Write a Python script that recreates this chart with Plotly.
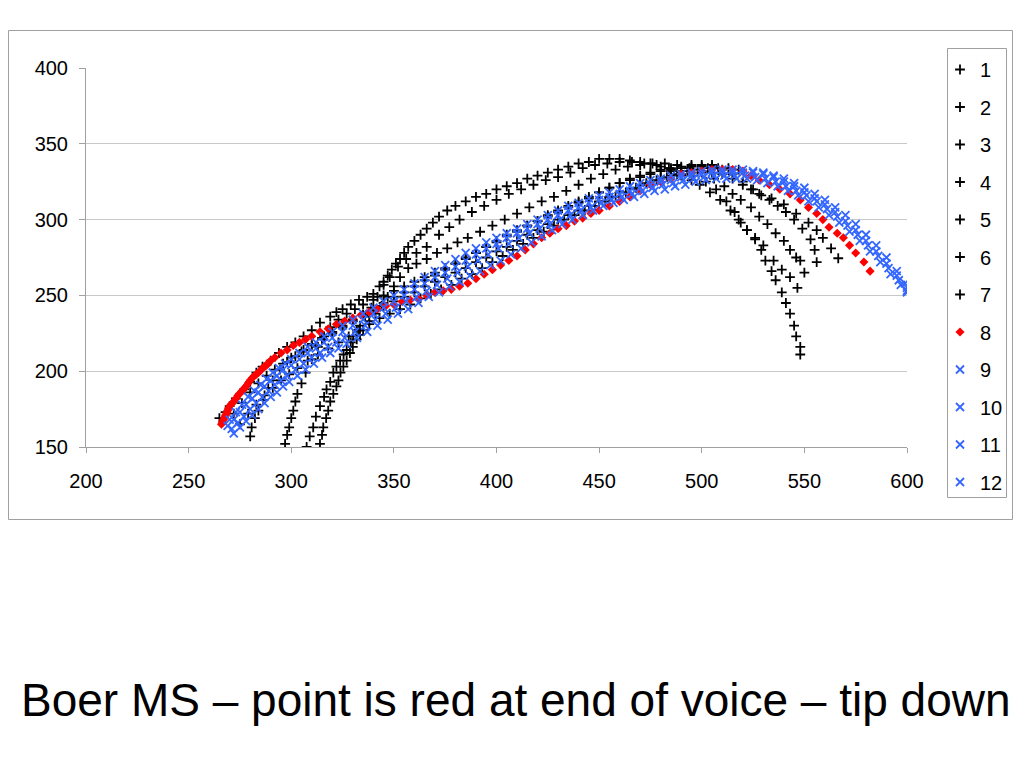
import plotly.graph_objects as go

# ---------------- data ----------------
s1_x = [265,268,270,273,277,280,283,286,290,294,298,302,306,310,314,319,322,325,329,333,337,340,343,345,347,349,351,353,355,357,360,363,366,369,372,376,380,385,390,395,400,405,410,415,420,425,430,435,440,445,450,455,460,465,470,475,480,485,490,495,499,504,509,514,518,522,526,529,531,534,536,539,541,543,545,546,548,548]
s1_y = [169,173,177,182,188,193,199,203,207,212,216,219,223,227,232,236,239,241,244,247,249,251,256,259,263,267,271,274,278,282,286,290,294,298,302,306,309,312,315,317,320,322,324,327,329,331,333,335,337,338,340,340,340,339,338,337,335,332,329,326,323,318,313,306,300,293,287,280,273,266,260,252,245,238,230,223,216,211]

s2_x = [297,298,299,300,301,302,303,305,307,310,313,316,319,323,327,331,335,340,345,350,355,360,365,370,375,380,385,390,395,400,405,410,415,420,425,430,435,440,445,450,455,460,465,470,475,480,485,490,495,500,505,510,515,520,525,529,533,537,541,545,549,553,555,556]
s2_y = [152,158,163,169,174,180,185,192,199,208,216,223,229,234,238,241,244,247,250,253,256,259,262,265,268,271,275,278,282,286,290,293,296,299,302,305,308,311,314,318,321,324,326,328,330,332,333,334,335,335,335,333,330,325,320,316,313,309,305,300,294,287,280,272]

s3_x = [307.5,309,310.7,312,314,316,317.2,319,320.5,322,323.8,325.5,327,329,330.2,332,333.5,336,339,342,345,348,352,356,361,366,372,377,382,388,394,400,406,412,418,424,430,436,442,448,454,460,466,472,478,484,490,496,502,507,512,516,519,522,526,530,535,539,543,546.6]
s3_y = [150,157,163,170,177,183,188,193,199,203,207,211,214,219,223,227,230,236,242,249,257,262,269,274,278,282,290,295,300,305,309,313,317,320,323,326,328,331,334,336,337,338,338,337,336,334,332,329,325,320,312,305,298,293,288,283,273,267,262,255]

s4_x = [314,315,315.6,317,318,319,320.5,322,323,324,325.4,327,328.6,330,331.9,333.5,335,338,341,344,347,350,353,357,361,366,371,376,381,386,392,398,404,410,416,422,428,434,440,446,452,458,464,470,476,482,488,494,500,506,511,515,519,524,528,532,536,540,543,546,548,550]
s4_y = [152,158,163,169,174,180,185,190,194,199,203,207,212,216,221,224,227,233,238,243,249,256,262,268,271,274,278,281,285,288,292,296,300,304,308,312,315,319,323,327,330,333,335,336,337,337,336,334,331,327,322,317,313,308,302,297,291,286,280,275,273,265]

s5_x = [280,280.7,282.3,284,286.4,288.8,291,294.5,298,302,306,310,315,320,325,330,335,340,345,350,355,360,365,370,375,380,385,390,395,400,405,410,415,420,425,430,435,440,445,450,455,460,465,470,475,480,485,490,495,500,505,510,515,520,524,528,534,540,546,552,556,559,563,566.5]
s5_y = [157,163,169,174,181,189,194,201,206,210,214,218,222,226,230,234,237,240,243,246,249,252,256,259,262,265,268,272,275,279,282,286,290,293,297,300,303,306,309,312,315,318,320,323,325,327,329,330,331,332,331,330,327,323,320,317,314,310,304,298,293,288,281,274.5]

s6_x = [272,276,280,284,288,292,296,300,305,310,315,320,325,330,335,340,345,350,355,360,365,370,375,380,385,390,395,400,405,410,415,420,425,430,435,440,445,450,455,460,465,470,475,480,485,490,495,500,505]
s6_y = [172,179,186,192,197,201,205,209,213,217,221,225,229,233,237,241,245,249,252,256,260,263,267,271,274,278,282,285,289,292,296,299,303,306,309,312,315,318,321,324,327,329,331,333,334,335,336,336,336]

s7_x = [275,279,283,287,291,295,299,303,308,313,318,323,328,333,338,343,348,353,358,363,368,373,378,383,388,393,398,403,408,413,418,423,428,433,438,443,448,453,458,463,468,473,478,483,488,493,498,503,508,513,518]
s7_y = [165,172,178,184,189,194,198,202,207,211,215,219,223,227,231,235,238,241,244,248,251,254,257,261,264,268,272,276,280,284,288,292,296,300,303,306,309,312,315,318,321,324,326,328,330,332,333,334,334,334,333]

s8_x = [266,266.5,267,267.5,268,268.5,269,269.5,270,271,272,273,274,275,276,277,278,279,280,281,282,283,284,285,286,287,288,289,290,292,295,298,301,304,307,310,314,318,322,326,330,334,338,342,346,350,354,358,362,366,370,374,378,382,386,390,394,398,402,406,410,414,418,422,426,430,434,438,442,446,450,455,460,465,470,475,480,485,490,495,500,505,510,515,520,524,528,533,538,543,548,552,556,559,562,566,569,572,575,579,582]
s8_y = [165,166.5,168,169.5,171,172.5,174,175.5,177,178.5,180,182,184,185.5,187,188.5,190,192,194,195.5,197,198,199,200.5,202,203,204,205.5,207,209,212,214,217,219,221,223,226,228,231,233,235,237,239,241,243,244,246,247,248,250,252,253,254,256,258,261,264,267,270,273,276,280,284,288,291,294,296,299,301,304,306,309,312,315,319,323,325,327,330,331,332,333,333,333,332,329,326,323,320,317,313,308,304,300,295,291,288,283,278,272,266]

s9_x = [270,273,276,279,282,285,288,291,294,297,300,304,308,312,316,320,325,330,335,340,345,350,355,360,365,370,375,380,385,390,395,400,405,410,415,420,425,430,435,440,445,450,455,460,465,470,475,480,485,490,495,500,505,510,515,520,525,530,535,540,545,550,555,560,565,570,575,580,585,590,595,599]
s9_y = [168,173,178,183,187,191,195,199,202,205,208,212,216,219,223,226,230,234,238,242,246,250,254,258,262,266,270,274,278,281,285,288,291,294,297,300,303,306,309,311,314,316,318,320,322,324,326,327,329,330,331,332,333,333,333,333,332,331,329,327,324,321,317,313,308,303,297,290,283,275,266,258]

s10_x = [269,272,275,278,281,284,287,290,293,296,300,304,308,312,316,320,325,330,335,340,345,350,355,360,365,370,375,380,385,390,395,400,405,410,415,420,425,430,435,440,445,450,455,460,465,470,475,480,485,490,495,500,505,510,515,520,525,530,535,540,545,550,555,560,565,570,575,580,585,590,595,600]
s10_y = [164,168,173,178,182,186,190,194,197,201,204,208,212,215,219,222,226,230,234,238,242,246,250,254,258,262,265,269,273,277,281,284,288,291,294,297,300,303,306,308,311,313,315,317,319,321,323,325,326,328,329,330,331,331,331,331,331,330,328,325,322,318,314,310,305,299,293,286,279,271,263,255]

s11_x = [271,274,277,280,283,286,289,292,295,298,302,306,310,314,318,322,326,331,336,341,346,351,356,361,366,371,376,381,386,391,396,401,406,411,416,421,426,431,436,441,446,451,456,461,466,471,476,481,486,491,496,501,506,511,516,521,526,531,536,541,546,551,556,561,566,571,576,581,586,591,596,600]
s11_y = [162,166,170,175,179,183,187,191,194,197,201,205,209,212,216,219,222,226,230,234,238,242,246,249,253,257,261,265,269,273,277,281,284,288,291,294,297,300,303,306,308,311,313,315,317,319,321,323,324,326,327,328,329,329,329,329,328,327,325,322,319,316,312,307,302,296,290,283,276,268,260,253]

s12_x = [272,275,278,281,284,287,290,293,296,299,303,307,311,315,319,323,327,332,337,342,347,352,357,362,367,372,377,382,387,392,397,402,407,412,417,422,427,432,437,442,447,452,457,462,467,472,477,482,487,492,497,502,507,512,517,522,527,532,537,542,547,552,557,562,567,572,577,582,587,592,597,600]
s12_y = [159,163,167,171,175,179,183,186,190,193,197,201,205,209,212,215,218,222,226,230,234,238,241,245,249,252,256,259,263,266,270,273,277,281,285,289,293,297,300,303,306,309,311,313,315,317,319,320,322,323,325,326,327,327,327,327,326,324,322,319,316,312,308,303,298,292,286,279,272,264,257,252]

series_names = ["1","2","3","4","5","6","7","8","9","10","11","12"]
x_ticks = [200,250,300,350,400,450,500,550,600]
y_ticks = [150,200,250,300,350,400]
title_text = "Boer MS \u2013 point is red at end of voice \u2013 tip down"

xs = [s1_x,s2_x,s3_x,s4_x,s5_x,s6_x,s7_x,s8_x,s9_x,s10_x,s11_x,s12_x]
ys = [s1_y,s2_y,s3_y,s4_y,s5_y,s6_y,s7_y,s8_y,s9_y,s10_y,s11_y,s12_y]

BLACK = "#000000"
RED = "#FF0000"
BLUE = "#3366FF"
GRAY = "#A0A0A0"

fig = go.Figure()
for i, (name, x, y) in enumerate(zip(series_names, xs, ys)):
    if i < 7:
        marker = dict(symbol="cross-thin", size=7, color=BLACK, line=dict(color=BLACK, width=1.8))
    elif i == 7:
        marker = dict(symbol="diamond", size=7, color=RED, line=dict(width=0))
    else:
        marker = dict(symbol="x-thin", size=8, color=BLUE, line=dict(color=BLUE, width=1.8))
    fig.add_trace(go.Scatter(x=x, y=y, mode="markers", name=name, marker=marker,
                             legendgroup=name, cliponaxis=True))

FONT = "Liberation Sans, Arial, sans-serif"

# the page body has an 8px margin: work in screen pixels, shift by OFF
OFF = 8
W, H = 1008, 752
L, R, T, B = 86 - OFF, 907 - OFF, 68 - OFF, 447 - OFF

def px(xs_):
    return (xs_ - OFF - L) / (R - L)

def py(ys_):
    return (B - (ys_ - OFF)) / (B - T)

fig.update_layout(
    width=W, height=H,
    margin=dict(l=L, r=W - R, t=T, b=H - B, pad=0),
    paper_bgcolor="white", plot_bgcolor="white",
    font=dict(family=FONT, size=20, color="black"),
    showlegend=True,
    legend=dict(x=(940 - OFF) / W, xref="container", y=1 - (50 - OFF) / H, yref="container",
                xanchor="left", yanchor="top", maxheight=600,
                borderwidth=0, bgcolor="rgba(0,0,0,0)",
                font=dict(size=20, family=FONT), tracegroupgap=8.5, itemwidth=30),
    xaxis=dict(range=[200, 600], tickvals=x_ticks, showgrid=False, zeroline=False,
               showline=True, linecolor=GRAY, linewidth=1,
               ticks="outside", ticklen=5, tickcolor=GRAY, ticklabelstandoff=11,
               tickfont=dict(size=20, family=FONT), fixedrange=True),
    yaxis=dict(range=[150, 400], tickvals=y_ticks, showgrid=True, gridcolor="#C8C8C8",
               gridwidth=1, zeroline=False, showline=True, linecolor=GRAY, linewidth=1,
               ticks="outside", ticklen=6, tickcolor=GRAY, ticklabelstandoff=7,
               tickfont=dict(size=20, family=FONT), fixedrange=True),
    shapes=[
        dict(type="rect", xref="paper", yref="paper",
             x0=px(8.5), x1=px(1012.5), y0=py(519.5), y1=py(30.5),
             line=dict(color=GRAY, width=1), fillcolor="rgba(0,0,0,0)", layer="below"),
        dict(type="rect", xref="paper", yref="paper",
             x0=px(947.5), x1=px(1006.5), y0=py(497.5), y1=py(48.5),
             line=dict(color=GRAY, width=1), fillcolor="white", layer="below"),
    ],
    annotations=[dict(text=title_text, xref="paper", yref="paper",
                      x=px(516), y=py(700), xanchor="center", yanchor="middle",
                      showarrow=False, font=dict(size=46, family=FONT, color="black"))],
)

fig.write_html("out.html")
